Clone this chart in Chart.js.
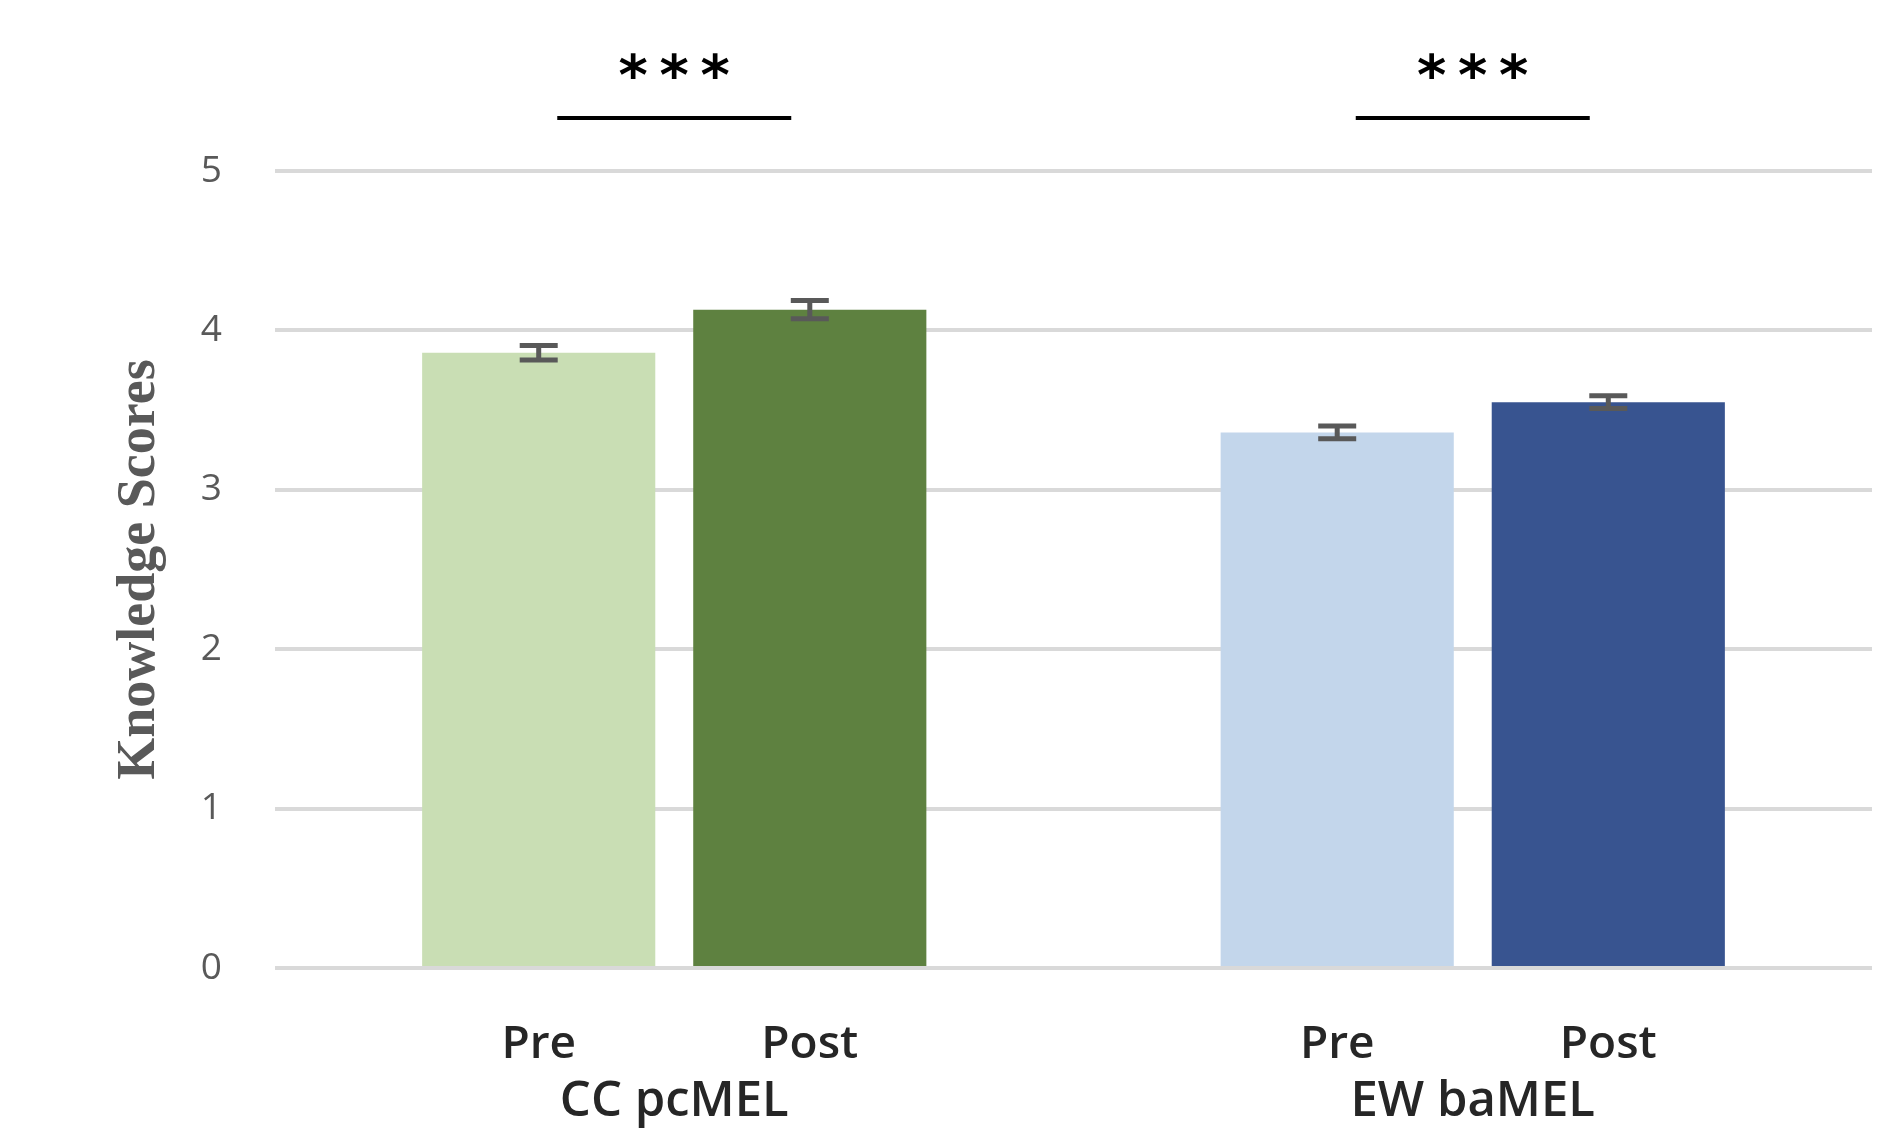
<!DOCTYPE html>
<html>
<head>
<meta charset="utf-8">
<script src="https://cdn.jsdelivr.net/npm/chart.js@4"></script>
<style>
    html, body { margin: 0; padding: 0; background: #fff; }
    #wrap { width: 1890px; height: 1130px; }
</style>
</head>
<body>
<div id="wrap"><canvas id="myChart" width="1890" height="1130"></canvas></div>
<script>
var groups = ["CC pcMEL", "EW baMEL"];
var phases = ["Pre", "Post"];
var preScores = [3.86, 3.36];
var postScores = [4.13, 3.55];
var preErrors = [0.045, 0.04];
var postErrors = [0.057, 0.04];
var preColors = ["#c9deb4", "#c3d6eb"];
var postColors = ["#5e8140", "#385490"];
var sigMarks = ["***", "***"];
var yMin = 0, yMax = 5, yStep = 1;

// error bars, Pre/Post labels under bars and the significance marks
const extras = {
    id: 'extras',
    afterDatasetsDraw(chart) {
        const ctx = chart.ctx
        const y = chart.scales.y
        const errs = [preErrors, postErrors]
        ctx.save()
        ctx.strokeStyle = '#595959'
        ctx.lineWidth = 5
        chart.data.datasets.forEach((ds, i) => {
            chart.getDatasetMeta(i).data.forEach((bar, j) => {
                const v = ds.data[j]
                const top = y.getPixelForValue(v + errs[i][j])
                const bot = y.getPixelForValue(v - errs[i][j])
                ctx.beginPath()
                ctx.moveTo(bar.x, top); ctx.lineTo(bar.x, bot)
                ctx.moveTo(bar.x - 19, top); ctx.lineTo(bar.x + 19, top)
                ctx.moveTo(bar.x - 19, bot); ctx.lineTo(bar.x + 19, bot)
                ctx.stroke()
            })
        })

        ctx.fillStyle = '#262626'
        ctx.font = '600 46px "Open Sans"'
        ctx.textAlign = 'center'
        ctx.textBaseline = 'alphabetic'
        chart.data.datasets.forEach((ds, i) => {
            chart.getDatasetMeta(i).data.forEach(bar => {
                ctx.fillText(phases[i], bar.x, y.bottom + 90)
            })
        })

        const m0 = chart.getDatasetMeta(0).data
        const m1 = chart.getDatasetMeta(1).data
        ctx.strokeStyle = '#000'
        ctx.lineWidth = 4
        ctx.fillStyle = '#000'
        ctx.font = 'bold 56px "DejaVu Sans"'
        ctx.textBaseline = 'middle'
        sigMarks.forEach((mark, j) => {
            const cx = (m0[j].x + m1[j].x) / 2
            ctx.beginPath()
            ctx.moveTo(cx - 117, y.top - 53)
            ctx.lineTo(cx + 117, y.top - 53)
            ctx.stroke()
            for (let k = 0; k < mark.length; k++) {
                ctx.fillText(mark[k], cx + (k - (mark.length - 1) / 2) * 41, y.top - 92)
            }
        })
        ctx.restore()
    }
}

new Chart("myChart", {
    type: "bar",
    data: {
        labels: groups,
        datasets: [{
            label: phases[0],
            data: preScores,
            backgroundColor: preColors,
            categoryPercentage: 0.679,
            barPercentage: 0.86
        }, {
            label: phases[1],
            data: postScores,
            backgroundColor: postColors,
            categoryPercentage: 0.679,
            barPercentage: 0.86
        }]
    },
    options: {
        responsive: false,
        animation: false,
        layout: { padding: { left: 104, top: 171, right: 18, bottom: 0 } },
        plugins: {
            legend: { display: false },
            tooltip: { enabled: false }
        },
        scales: {
            x: {
                grid: { display: false, drawTicks: false },
                border: { display: false },
                ticks: {
                    color: '#262626',
                    font: { family: 'Open Sans', size: 49, weight: 600 },
                    padding: 105
                },
                afterFit: (scale) => { scale.height = 162 }
            },
            y: {
                min: yMin,
                max: yMax,
                grid: { color: '#d9d9d9', lineWidth: 4, drawTicks: false },
                border: { display: false },
                ticks: {
                    stepSize: yStep,
                    color: '#595959',
                    font: { family: 'Open Sans', size: 37 },
                    padding: 53
                },
                title: {
                    display: true,
                    text: 'Knowledge Scores',
                    color: '#595959',
                    font: { family: 'Liberation Serif', size: 54, weight: 'bold' },
                    padding: { top: 4, bottom: 4 }
                },
                afterFit: (scale) => { scale.width = 171 }
            }
        }
    },
    plugins: [extras]
});
</script>
</body>
</html>
